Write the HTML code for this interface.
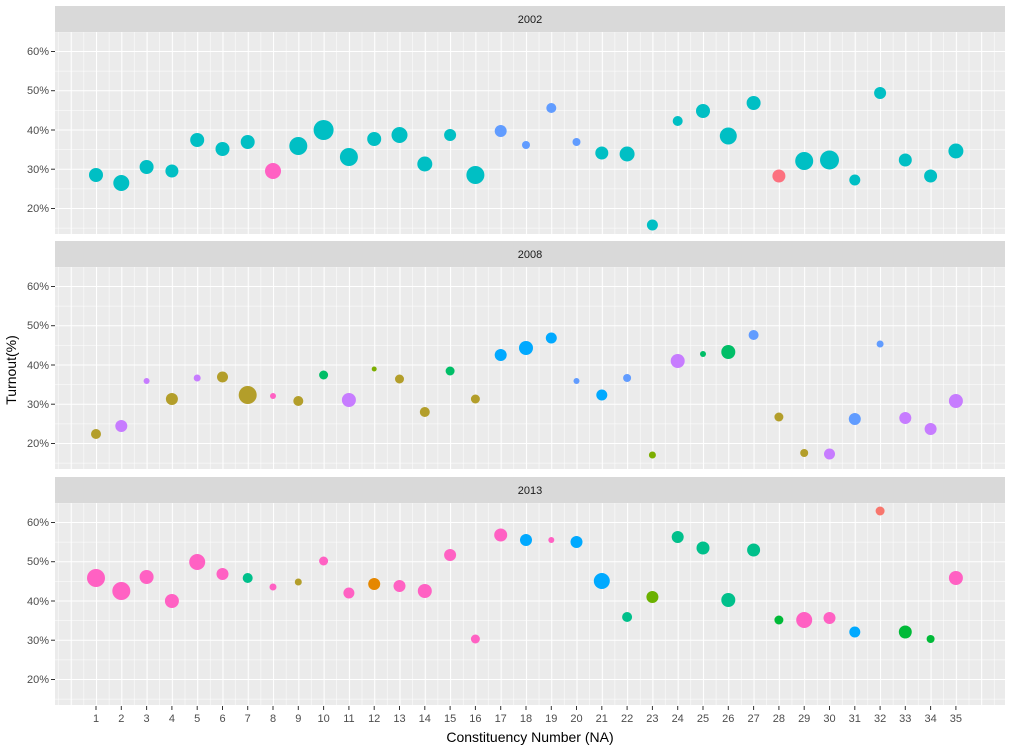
<!DOCTYPE html>
<html><head><meta charset="utf-8"><style>
html,body{margin:0;padding:0;background:#fff;}
svg{display:block;font-family:"Liberation Sans",Arial,sans-serif;}
</style></head><body>
<svg width="1013" height="750" viewBox="0 0 1013 750" xmlns="http://www.w3.org/2000/svg">
<defs>
<pattern id="gx" patternUnits="userSpaceOnUse" x="96" y="0" width="25.29" height="800">
<line x1="0.5" y1="0" x2="0.5" y2="800" stroke="#fff" stroke-width="1.1"/>
<line x1="13.1" y1="0" x2="13.1" y2="800" stroke="#fff" stroke-width="0.5"/>
</pattern>
<pattern id="gy" patternUnits="userSpaceOnUse" x="0" y="51" width="1100" height="39.25">
<line x1="0" y1="0.5" x2="1100" y2="0.5" stroke="#fff" stroke-width="1.1"/>
<line x1="0" y1="20.1" x2="1100" y2="20.1" stroke="#fff" stroke-width="0.5"/>
</pattern>
<g id="panel">
<rect x="55" y="6" width="950" height="26" fill="#D9D9D9"/>
<rect x="55" y="32" width="950" height="202" fill="#EBEBEB"/>
<rect x="55" y="32" width="950" height="202" fill="url(#gy)"/>
<rect x="55" y="32" width="950" height="202" fill="url(#gx)"/>
<g font-size="11" fill="#4D4D4D" text-anchor="end">
<text x="49" y="55">60%</text><text x="49" y="94">50%</text><text x="49" y="134">40%</text><text x="49" y="173">30%</text><text x="49" y="212">20%</text>
</g>
<g stroke="#333" stroke-width="1">
<line x1="51" y1="51.5" x2="55" y2="51.5"/><line x1="51" y1="90.7" x2="55" y2="90.7"/><line x1="51" y1="130" x2="55" y2="130"/><line x1="51" y1="169.2" x2="55" y2="169.2"/><line x1="51" y1="208.5" x2="55" y2="208.5"/>
</g>
</g>
</defs>
<use href="#panel"/>
<g transform="translate(0,235)"><use href="#panel"/></g>
<g transform="translate(0,471)"><use href="#panel"/></g>
<g font-size="11" fill="#1A1A1A" text-anchor="middle">
<text x="530" y="23">2002</text><text x="530" y="258">2008</text><text x="530" y="494">2013</text>
</g>
<!-- 2002 -->
<g fill="#00BFC4">
<circle cx="96" cy="175" r="7"/><circle cx="121.3" cy="183" r="8"/><circle cx="146.6" cy="167" r="7"/><circle cx="171.9" cy="171" r="6.5"/><circle cx="197.2" cy="140" r="7"/><circle cx="222.5" cy="149" r="7"/><circle cx="247.7" cy="142" r="7"/><circle cx="298.3" cy="146" r="9"/><circle cx="323.6" cy="130" r="10"/><circle cx="348.9" cy="157" r="9"/><circle cx="374.2" cy="139" r="7"/><circle cx="399.5" cy="135" r="8"/><circle cx="424.8" cy="164" r="7.5"/><circle cx="450.1" cy="135" r="6"/><circle cx="475.4" cy="175" r="9"/><circle cx="601.8" cy="153" r="6.5"/><circle cx="627.1" cy="154" r="7.5"/><circle cx="652.4" cy="225" r="5.5"/><circle cx="677.7" cy="121" r="5"/><circle cx="703" cy="111" r="7"/><circle cx="728.3" cy="136" r="8.5"/><circle cx="753.6" cy="103" r="7"/><circle cx="804.2" cy="161" r="9"/><circle cx="829.5" cy="160" r="9.5"/><circle cx="854.8" cy="180" r="5.5"/><circle cx="880.1" cy="93" r="6"/><circle cx="905.3" cy="160" r="6.5"/><circle cx="930.6" cy="176" r="6.5"/><circle cx="955.9" cy="151" r="7.5"/>
</g>
<circle cx="273" cy="171" r="8" fill="#FF61C3"/>
<circle cx="778.9" cy="176" r="6.5" fill="#FC717F"/>
<g fill="#619CFF">
<circle cx="500.7" cy="131" r="6"/><circle cx="526" cy="145" r="4"/><circle cx="551.3" cy="108" r="5"/><circle cx="576.5" cy="142" r="4"/>
</g>
<!-- 2008 -->
<g fill="#B39E2A">
<circle cx="96" cy="434" r="5"/><circle cx="171.9" cy="399" r="6"/><circle cx="222.5" cy="377" r="5.5"/><circle cx="247.7" cy="395" r="9"/><circle cx="298.3" cy="401" r="5"/><circle cx="399.5" cy="379" r="4.5"/><circle cx="424.8" cy="412" r="5"/><circle cx="475.4" cy="399" r="4.5"/><circle cx="778.9" cy="417" r="4.5"/><circle cx="804.2" cy="453" r="4"/>
</g>
<g fill="#C77CFF">
<circle cx="121.3" cy="426" r="6"/><circle cx="146.6" cy="381" r="3"/><circle cx="197.2" cy="378" r="3.5"/><circle cx="348.9" cy="400" r="7"/><circle cx="677.7" cy="361" r="7"/><circle cx="829.5" cy="454" r="5.5"/><circle cx="905.3" cy="418" r="6"/><circle cx="930.6" cy="429" r="6"/><circle cx="955.9" cy="401" r="7"/>
</g>
<circle cx="273" cy="396" r="3" fill="#FF61C3"/>
<g fill="#7CAE00"><circle cx="374.2" cy="369" r="2.5"/><circle cx="652.4" cy="455" r="3.5"/></g>
<g fill="#00BE67">
<circle cx="323.6" cy="375" r="4.5"/><circle cx="450.1" cy="371" r="4.5"/><circle cx="703" cy="354" r="3"/><circle cx="728.3" cy="352" r="7"/>
</g>
<g fill="#00A9FF">
<circle cx="500.7" cy="355" r="6"/><circle cx="526" cy="348" r="7"/><circle cx="551.3" cy="338" r="5.5"/><circle cx="601.8" cy="395" r="5.5"/>
</g>
<g fill="#619CFF">
<circle cx="576.5" cy="381" r="3"/><circle cx="627.1" cy="378" r="4"/><circle cx="753.6" cy="335" r="5"/><circle cx="854.8" cy="419" r="6"/><circle cx="880.1" cy="344" r="3.5"/>
</g>
<!-- 2013 -->
<g fill="#FF61C3">
<circle cx="96" cy="578" r="9"/><circle cx="121.3" cy="591" r="9"/><circle cx="146.6" cy="577" r="7"/><circle cx="171.9" cy="601" r="7"/><circle cx="197.2" cy="562" r="8"/><circle cx="222.5" cy="574" r="6"/><circle cx="273" cy="587" r="3.5"/><circle cx="323.6" cy="561" r="4.5"/><circle cx="348.9" cy="593" r="5.5"/><circle cx="399.5" cy="586" r="6"/><circle cx="424.8" cy="591" r="7"/><circle cx="450.1" cy="555" r="6"/><circle cx="475.4" cy="639" r="4.5"/><circle cx="500.7" cy="535" r="6.5"/><circle cx="551.3" cy="540" r="3"/><circle cx="804.2" cy="620" r="8"/><circle cx="829.5" cy="618" r="6"/><circle cx="955.9" cy="578" r="7"/>
</g>
<circle cx="298.3" cy="582" r="3.5" fill="#B39E2A"/>
<circle cx="374.2" cy="584" r="6" fill="#E58700"/>
<circle cx="652.4" cy="597" r="6" fill="#6BB100"/>
<circle cx="880.1" cy="511" r="4.5" fill="#F8766D"/>
<g fill="#00C08B">
<circle cx="247.7" cy="578" r="5"/><circle cx="627.1" cy="617" r="5"/><circle cx="677.7" cy="537" r="6"/><circle cx="703" cy="548" r="6.5"/><circle cx="728.3" cy="600" r="7"/><circle cx="753.6" cy="550" r="6.5"/>
</g>
<g fill="#00BA38">
<circle cx="778.9" cy="620" r="4.5"/><circle cx="905.3" cy="632" r="6.5"/><circle cx="930.6" cy="639" r="4"/>
</g>
<g fill="#00A9FF">
<circle cx="526" cy="540" r="6"/><circle cx="576.5" cy="542" r="6"/><circle cx="601.8" cy="581" r="8"/><circle cx="854.8" cy="632" r="5.5"/>
</g>
<!-- x axis -->
<g stroke="#333" stroke-width="1">
<line x1="96" y1="706" x2="96" y2="710"/><line x1="121.3" y1="706" x2="121.3" y2="710"/><line x1="146.6" y1="706" x2="146.6" y2="710"/><line x1="171.9" y1="706" x2="171.9" y2="710"/><line x1="197.2" y1="706" x2="197.2" y2="710"/><line x1="222.5" y1="706" x2="222.5" y2="710"/><line x1="247.7" y1="706" x2="247.7" y2="710"/><line x1="273" y1="706" x2="273" y2="710"/><line x1="298.3" y1="706" x2="298.3" y2="710"/><line x1="323.6" y1="706" x2="323.6" y2="710"/><line x1="348.9" y1="706" x2="348.9" y2="710"/><line x1="374.2" y1="706" x2="374.2" y2="710"/><line x1="399.5" y1="706" x2="399.5" y2="710"/><line x1="424.8" y1="706" x2="424.8" y2="710"/><line x1="450.1" y1="706" x2="450.1" y2="710"/><line x1="475.4" y1="706" x2="475.4" y2="710"/><line x1="500.7" y1="706" x2="500.7" y2="710"/><line x1="526" y1="706" x2="526" y2="710"/><line x1="551.3" y1="706" x2="551.3" y2="710"/><line x1="576.5" y1="706" x2="576.5" y2="710"/><line x1="601.8" y1="706" x2="601.8" y2="710"/><line x1="627.1" y1="706" x2="627.1" y2="710"/><line x1="652.4" y1="706" x2="652.4" y2="710"/><line x1="677.7" y1="706" x2="677.7" y2="710"/><line x1="703" y1="706" x2="703" y2="710"/><line x1="728.3" y1="706" x2="728.3" y2="710"/><line x1="753.6" y1="706" x2="753.6" y2="710"/><line x1="778.9" y1="706" x2="778.9" y2="710"/><line x1="804.2" y1="706" x2="804.2" y2="710"/><line x1="829.5" y1="706" x2="829.5" y2="710"/><line x1="854.8" y1="706" x2="854.8" y2="710"/><line x1="880.1" y1="706" x2="880.1" y2="710"/><line x1="905.3" y1="706" x2="905.3" y2="710"/><line x1="930.6" y1="706" x2="930.6" y2="710"/><line x1="955.9" y1="706" x2="955.9" y2="710"/>
</g>
<g font-size="11" fill="#4D4D4D" text-anchor="middle">
<text x="96" y="722">1</text><text x="121.3" y="722">2</text><text x="146.6" y="722">3</text><text x="171.9" y="722">4</text><text x="197.2" y="722">5</text><text x="222.5" y="722">6</text><text x="247.7" y="722">7</text><text x="273" y="722">8</text><text x="298.3" y="722">9</text><text x="323.6" y="722">10</text><text x="348.9" y="722">11</text><text x="374.2" y="722">12</text><text x="399.5" y="722">13</text><text x="424.8" y="722">14</text><text x="450.1" y="722">15</text><text x="475.4" y="722">16</text><text x="500.7" y="722">17</text><text x="526" y="722">18</text><text x="551.3" y="722">19</text><text x="576.5" y="722">20</text><text x="601.8" y="722">21</text><text x="627.1" y="722">22</text><text x="652.4" y="722">23</text><text x="677.7" y="722">24</text><text x="703" y="722">25</text><text x="728.3" y="722">26</text><text x="753.6" y="722">27</text><text x="778.9" y="722">28</text><text x="804.2" y="722">29</text><text x="829.5" y="722">30</text><text x="854.8" y="722">31</text><text x="880.1" y="722">32</text><text x="905.3" y="722">33</text><text x="930.6" y="722">34</text><text x="955.9" y="722">35</text>
</g>
<text x="530" y="742" font-size="14" fill="#000" text-anchor="middle">Constituency Number (NA)</text>
<text transform="translate(16,370) rotate(-90)" font-size="14" fill="#000" text-anchor="middle">Turnout(%)</text>
</svg>
</body></html>
